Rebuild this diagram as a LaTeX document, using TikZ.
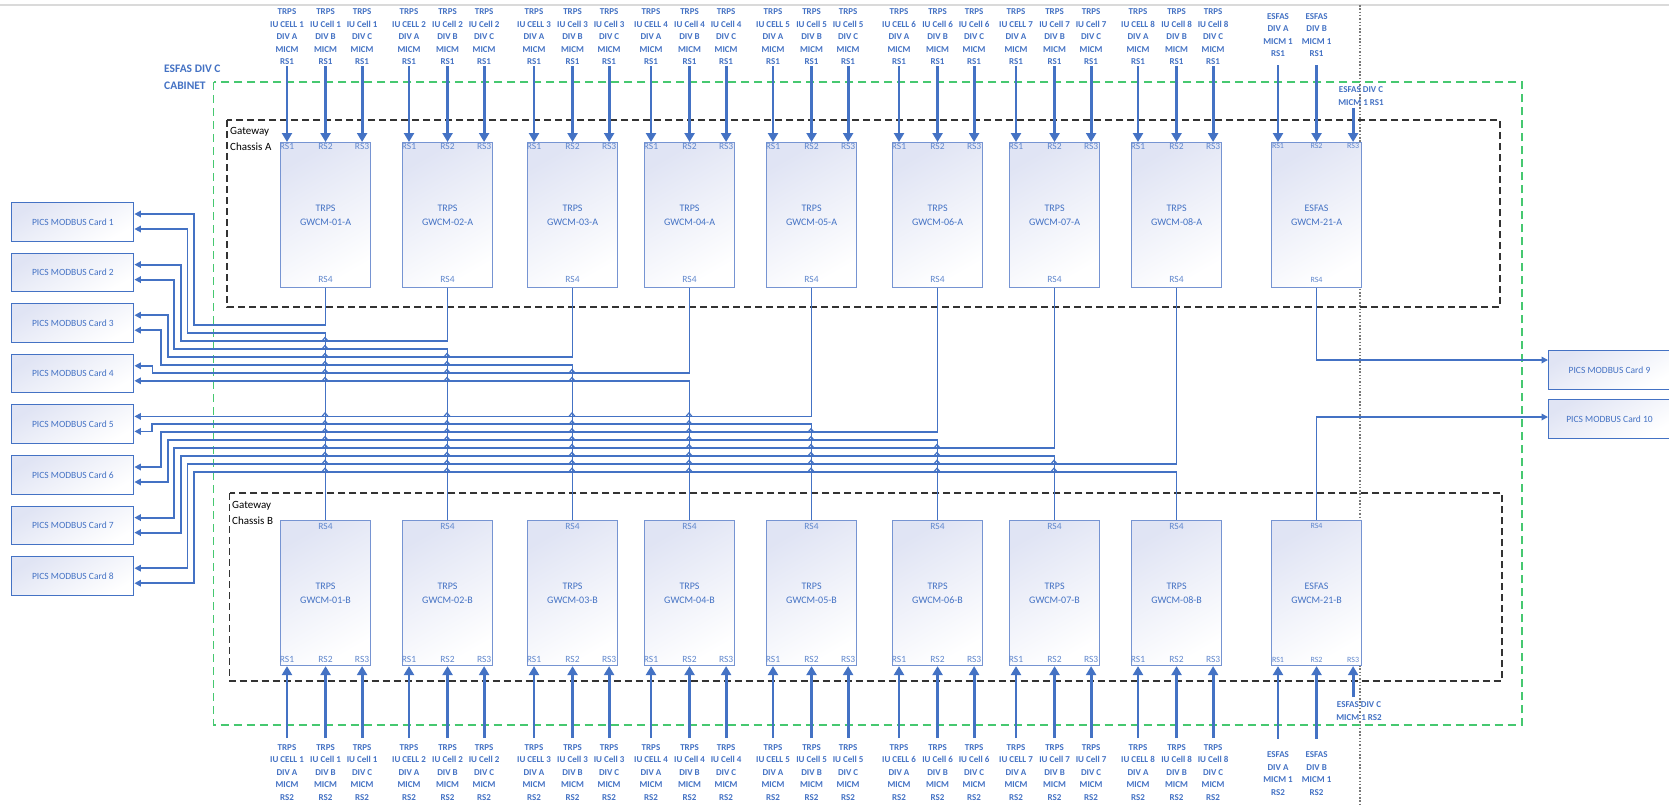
\documentclass[tikz,border=0pt]{standalone}
\usepackage{fontspec}
\setmainfont{Carlito}
\usepackage{tikz}
\usetikzlibrary{arrows.meta,positioning,calc}

\definecolor{wireblue}{RGB}{68,114,196}
\definecolor{modline}{RGB}{118,148,210}
\definecolor{modfill}{RGB}{224,228,244}
\definecolor{cabgreen}{RGB}{70,200,112}
\definecolor{pagegray}{RGB}{218,218,218}
\definecolor{breakgray}{RGB}{120,120,120}

\begin{document}
\begin{tikzpicture}[x=1pt,y=-1pt]
\tikzstyle{gwcm} = [rectangle, draw=modline, line width=1.1pt, top color=modfill, bottom color=white, shading angle=30, minimum width=90pt, minimum height=145pt, inner sep=0pt, text=wireblue, align=center, font=\fontsize{10}{14}\selectfont, anchor=north west]
\tikzstyle{card} = [rectangle, draw=wireblue, line width=1pt, top color=modfill, bottom color=white, shading angle=30, minimum width=122pt, minimum height=38.5pt, inner sep=0pt, text=wireblue, font=\fontsize{9.5}{11}\selectfont, anchor=north west]
\tikzstyle{inlabel} = [text=wireblue, align=center, inner sep=0pt, font=\fontsize{9}{12.5}\selectfont\bfseries]
\tikzstyle{port} = [text=wireblue!85, inner sep=0pt, font=\fontsize{9.5}{10}\selectfont]
\tikzstyle{smallport} = [text=wireblue!85, inner sep=0pt, font=\fontsize{8}{9}\selectfont]
\tikzstyle{feed} = [draw=wireblue, line width=2.9pt, -{Triangle[length=9pt,width=10pt]}]
\tikzstyle{wire} = [draw=wireblue, line width=1.8pt, -{Triangle[length=6.5pt,width=6.5pt]}]
\tikzstyle{hop} = [draw=wireblue, line width=1.2pt]
\tikzstyle{chassis} = [draw=black!80, line width=1.1pt, dash pattern=on 7pt off 4pt]
\tikzstyle{cabinet} = [draw=cabgreen, line width=1.3pt, dash pattern=on 8pt off 5pt]

\useasboundingbox (0,0) rectangle (1669,804);
\fill[white] (0,0) rectangle (1669,804);

% page edge and page break
\draw[pagegray, line width=2pt] (0,5) -- (1669,5);
\draw[breakgray, line width=1.2pt, dash pattern=on 1.5pt off 1.8pt] (1360,5) -- (1360,804);

% cabinet and chassis frames
\path[cabinet] (213.6,82) rectangle (1522,725);
\path[chassis] (227,120) rectangle (1500,307);
\path[chassis] (229.6,493) rectangle (1502,681);
\node[anchor=west, align=left, inner sep=0pt, text=wireblue, font=\fontsize{11.5}{17}\selectfont\bfseries] (cab) at (164,77.5) {ESFAS DIV C\\CABINET};
\node[anchor=west, align=left, inner sep=0pt, font=\fontsize{11}{16}\selectfont] (chasA) at (230,139) {Gateway\\Chassis A};
\node[anchor=west, align=left, inner sep=0pt, font=\fontsize{11}{16}\selectfont] (chasB) at (232,512.5) {Gateway\\Chassis B};

% PICS cards
\foreach \c in {1,...,8}{
	\node[card] (card\c) at (11.4,{202+50.6*(\c-1)}) {PICS MODBUS Card \c};
	\coordinate (card\c-1) at ($(card\c.north east)+(0,12)$);
	\coordinate (card\c-2) at ($(card\c.north east)+(0,27)$);
}
\node[card] (card9) at (1548,350) {PICS MODBUS Card 9};
\node[card] (card10) at (1548,399) {PICS MODBUS Card 10};
\coordinate (card9-1) at ($(card9.north west)+(0,10)$);
\coordinate (card10-1) at ($(card10.north west)+(0,18)$);

% gateway modules
\foreach \k/\cx in {1/325,2/447,3/572,4/689,5/811,6/937,7/1054,8/1176}{
	\node[gwcm] (A\k) at (\cx-45,142) {TRPS\\GWCM-0\k-A};
	\node[gwcm] (B\k) at (\cx-45,520) {TRPS\\GWCM-0\k-B};
}
\node[gwcm] (A9) at (1271,142) {ESFAS\\GWCM-21-A};
\node[gwcm] (B9) at (1271,520) {ESFAS\\GWCM-21-B};

% ports
\foreach \k in {1,...,9}{
	\coordinate (A\k-1) at ($(A\k.north west)+(7,0)$);
	\coordinate (A\k-2) at (A\k.north);
	\coordinate (A\k-3) at ($(A\k.north east)+(-9,0)$);
	\coordinate (B\k-1) at ($(B\k.south west)+(7,0)$);
	\coordinate (B\k-2) at (B\k.south);
	\coordinate (B\k-3) at ($(B\k.south east)+(-9,0)$);
}
\foreach \k in {1,...,8}{
	\node[port, below=1pt of A\k-1] (pA\k-1) {RS1};
	\node[port, below=1pt of A\k-2] (pA\k-2) {RS2};
	\node[port, below=1pt of A\k-3] (pA\k-3) {RS3};
	\node[port, above=5pt of A\k.south] (pA\k-4) {RS4};
	\node[port, above=3pt of B\k-1] (pB\k-1) {RS1};
	\node[port, above=3pt of B\k-2] (pB\k-2) {RS2};
	\node[port, above=3pt of B\k-3] (pB\k-3) {RS3};
	\node[port, below=3pt of B\k.north] (pB\k-4) {RS4};
}
\node[smallport, below=1.5pt of A9-1] (pA9-1) {RS1};
\node[smallport, below=1.5pt of A9-2] (pA9-2) {RS2};
\node[smallport, below=1.5pt of A9-3] (pA9-3) {RS3};
\node[smallport, above=5pt of A9.south] (pA9-4) {RS4};
\node[smallport, above=3.5pt of B9-1] (pB9-1) {RS1};
\node[smallport, above=3.5pt of B9-2] (pB9-2) {RS2};
\node[smallport, above=3.5pt of B9-3] (pB9-3) {RS3};
\node[smallport, below=3.5pt of B9.north] (pB9-4) {RS4};

% MICM feeds, TRPS
\foreach \k in {1,...,8}{
	\node[inlabel, above=77pt of A\k-1] (iA\k-1) {TRPS\\IU CELL \k\\DIV A\\MICM\\RS1};
	\node[inlabel, above=77pt of A\k-2] (iA\k-2) {TRPS\\IU Cell \k\\DIV B\\MICM\\RS1};
	\node[inlabel, above=77pt of A\k-3] (iA\k-3) {TRPS\\IU Cell \k\\DIV C\\MICM\\RS1};
	\node[inlabel, below=78pt of B\k-1] (iB\k-1) {TRPS\\IU CELL \k\\DIV A\\MICM\\RS2};
	\node[inlabel, below=78pt of B\k-2] (iB\k-2) {TRPS\\IU Cell \k\\DIV B\\MICM\\RS2};
	\node[inlabel, below=78pt of B\k-3] (iB\k-3) {TRPS\\IU Cell \k\\DIV C\\MICM\\RS2};
	\foreach \j in {1,2,3}{
		\path[feed, shorten <=1pt] (iA\k-\j) -- (A\k-\j);
		\path[feed, shorten <=6pt] (iB\k-\j) -- (B\k-\j);
	}
}

% MICM feeds, ESFAS
\node[inlabel, above=85pt of A9-1] (iA9-1) {ESFAS\\DIV A\\MICM 1\\RS1};
\node[inlabel, above=85pt of A9-2] (iA9-2) {ESFAS\\DIV B\\MICM 1\\RS1};
\node[inlabel] (iA9-3) at (1361,96) {ESFAS DIV C\\MICM 1 RS1};
\node[inlabel, below=85.5pt of B9-1] (iB9-1) {ESFAS\\DIV A\\MICM 1\\RS2};
\node[inlabel, below=85.5pt of B9-2] (iB9-2) {ESFAS\\DIV B\\MICM 1\\RS2};
\node[inlabel] (iB9-3) at (1359,711) {ESFAS DIV C\\MICM 1 RS2};
\path[feed, shorten <=8pt] (iA9-1) -- (A9-1);
\path[feed, shorten <=8pt] (iA9-2) -- (A9-2);
\path[feed, shorten <=2.5pt] (iA9-3.south -| A9-3) -- (A9-3);
\path[feed, shorten <=13pt] (iB9-1) -- (B9-1);
\path[feed, shorten <=13pt] (iB9-2) -- (B9-2);
\path[feed, shorten <=4.5pt] (iB9-3.north -| B9-3) -- (B9-3);

% RS4 links to the PICS cards
\foreach \n/\src/\via/\tgt in {1/A1.south/194/card1-1, 2/B1.north/187.4/card1-2, 3/A2.south/180.8/card2-1, 4/B2.north/174.2/card2-2, 5/A3.south/167.6/card3-1, 6/B3.north/161/card3-2, 7/A4.south/152.5/card4-1, 8/B4.north/150/card4-2, 9/A5.south/150/card5-1, 10/B5.north/152/card5-2, 11/A6.south/161/card6-1, 12/B6.north/167.6/card6-2, 13/A7.south/174.2/card7-1, 14/B7.north/180.8/card7-2, 15/A8.south/187.4/card8-1, 16/B8.north/194/card8-2}{
	\pgfmathsetmacro\ly{\n<=8 ? 325+8*(\n-1) : 416.4+7.9*(\n-9)}
	\path[wire] (\src) |- (\via,\ly) |- (\tgt);
}
\path[wire] (A9.south) |- (card9-1);
\path[wire] (B9.north) |- (card10-1);

% line hops where chassis B risers cross
\foreach \k/\cx in {1/325,2/447,3/572,4/689,5/811,6/937,7/1054}{
	\pgfmathtruncatemacro\first{2*\k+1}
	\foreach \n in {\first,...,16}{
		\pgfmathsetmacro\ly{\n<=8 ? 325+8*(\n-1) : 416.4+7.9*(\n-9)}
		\draw[hop] (\cx-3,\ly) -- (\cx,\ly-3.5) -- (\cx+3,\ly);
	}
}
\end{tikzpicture}
\end{document}
